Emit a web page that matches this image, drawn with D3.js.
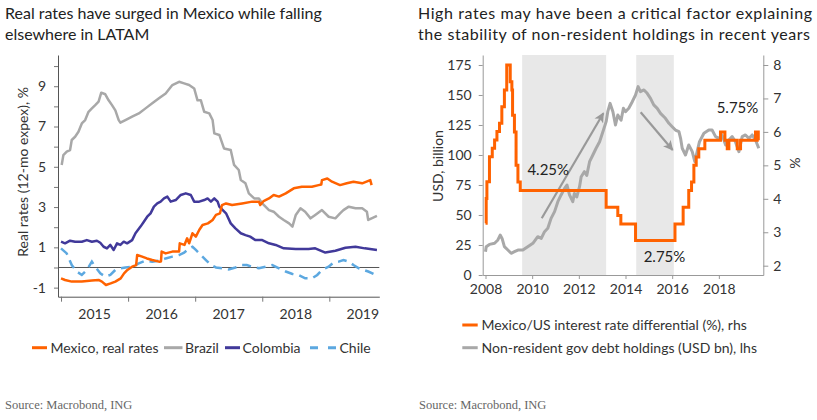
<!DOCTYPE html>
<html><head><meta charset="utf-8">
<script src="https://cdn.jsdelivr.net/npm/d3@7"></script>
<style>
html,body{margin:0;padding:0;background:#fff;}
svg{display:block;font-family:Lato,"Noto Sans",sans-serif;}
</style></head>
<body>
<svg id="c" width="817" height="420"></svg>
<script>
// ---------------- LEFT CHART DATA ----------------
const leftYears = [2015, 2016, 2017, 2018, 2019];
const leftYTicks = [-1,0,1,2,3,4,5,6,7,8,9,10];
const mexico = [[2015.0,-0.54],[2015.06,-0.62],[2015.16,-0.70],[2015.31,-0.70],[2015.46,-0.65],[2015.56,-0.62],[2015.61,-0.70],[2015.67,-0.87],[2015.74,-0.79],[2015.81,-0.70],[2015.89,-0.54],[2015.94,-0.29],[2015.99,-0.12],[2016.06,0.04],[2016.12,0.12],[2016.135,0.62],[2016.21,0.54],[2016.28,0.45],[2016.36,0.37],[2016.46,0.29],[2016.49,0.30],[2016.5,0.79],[2016.56,0.70],[2016.66,0.79],[2016.76,0.79],[2016.77,1.2],[2016.84,1.12],[2016.88,1.45],[2016.91,1.2],[2016.96,1.7],[2017.01,1.53],[2017.06,1.86],[2017.11,2.11],[2017.19,2.19],[2017.26,2.36],[2017.31,2.61],[2017.37,2.69],[2017.40,3.1],[2017.46,3.18],[2017.55,3.1],[2017.7,3.18],[2017.85,3.27],[2017.95,3.27],[2017.97,3.1],[2018.02,3.3],[2018.1,3.43],[2018.17,3.6],[2018.25,3.52],[2018.35,3.68],[2018.47,3.93],[2018.59,4.01],[2018.74,4.01],[2018.84,4.09],[2018.88,4.12],[2018.89,4.34],[2018.97,4.42],[2019.04,4.26],[2019.16,4.09],[2019.26,4.18],[2019.36,4.26],[2019.49,4.18],[2019.61,4.34],[2019.63,4.09]];
const brazil = [[2015.01,5.09],[2015.035,5.58],[2015.085,5.75],[2015.135,5.83],[2015.16,6.33],[2015.21,6.49],[2015.26,6.74],[2015.31,7.15],[2015.36,7.32],[2015.41,7.73],[2015.46,7.9],[2015.51,8.06],[2015.56,8.23],[2015.6,8.68],[2015.66,8.6],[2015.71,8.3],[2015.76,8.06],[2015.81,7.8],[2015.86,7.32],[2015.885,7.19],[2015.96,7.32],[2016.06,7.49],[2016.16,7.65],[2016.26,7.9],[2016.36,8.15],[2016.46,8.4],[2016.56,8.64],[2016.66,9.06],[2016.76,9.22],[2016.835,9.14],[2016.91,9.06],[2016.985,8.89],[2017.035,8.3],[2017.085,8.3],[2017.135,7.73],[2017.21,7.65],[2017.26,7.32],[2017.285,6.66],[2017.36,6.58],[2017.43,5.91],[2017.53,5.83],[2017.58,5.09],[2017.65,4.84],[2017.68,4.34],[2017.75,4.18],[2017.80,3.68],[2017.88,3.43],[2017.95,3.43],[2018.0,3.18],[2018.1,2.85],[2018.17,2.77],[2018.25,2.52],[2018.32,2.36],[2018.4,2.19],[2018.45,2.03],[2018.5,2.61],[2018.57,2.94],[2018.64,2.77],[2018.72,2.44],[2018.79,2.61],[2018.89,2.85],[2018.99,2.52],[2019.09,2.44],[2019.16,2.69],[2019.21,2.85],[2019.29,3.02],[2019.39,2.94],[2019.49,2.94],[2019.56,2.77],[2019.58,2.36],[2019.63,2.44],[2019.71,2.56]];
const colombia = [[2015.0,1.28],[2015.06,1.2],[2015.135,1.33],[2015.21,1.28],[2015.31,1.28],[2015.385,1.36],[2015.46,1.28],[2015.535,1.33],[2015.585,1.23],[2015.635,1.03],[2015.685,0.95],[2015.735,1.12],[2015.785,0.87],[2015.835,1.2],[2015.885,1.12],[2015.935,1.28],[2015.985,1.2],[2016.06,1.36],[2016.11,1.70],[2016.185,2.03],[2016.235,2.27],[2016.285,2.52],[2016.335,2.69],[2016.385,3.02],[2016.435,3.18],[2016.485,3.27],[2016.535,3.43],[2016.585,3.52],[2016.635,3.27],[2016.71,3.35],[2016.785,3.6],[2016.86,3.68],[2016.935,3.6],[2016.985,3.27],[2017.06,3.27],[2017.135,3.35],[2017.185,3.43],[2017.235,3.27],[2017.285,3.43],[2017.335,3.27],[2017.36,3.02],[2017.46,2.69],[2017.53,2.19],[2017.6,1.94],[2017.68,1.7],[2017.75,1.61],[2017.82,1.53],[2017.9,1.36],[2018.0,1.36],[2018.1,1.2],[2018.2,1.12],[2018.32,0.95],[2018.5,0.92],[2018.69,0.92],[2018.79,0.95],[2018.94,0.74],[2019.09,0.83],[2019.24,0.98],[2019.39,1.03],[2019.53,0.95],[2019.71,0.87]];
const chile = [[2015.0,0.95],[2015.085,0.70],[2015.16,0.12],[2015.235,-0.2],[2015.31,-0.37],[2015.385,-0.12],[2015.46,0.29],[2015.51,0.04],[2015.585,-0.29],[2015.66,-0.45],[2015.735,-0.37],[2015.81,-0.12],[2015.885,-0.04],[2015.96,0.0],[2016.06,0.04],[2016.16,0.2],[2016.26,0.34],[2016.36,0.29],[2016.46,0.34],[2016.56,0.45],[2016.66,0.54],[2016.76,0.62],[2016.835,0.74],[2016.91,0.95],[2016.96,1.03],[2017.01,0.87],[2017.085,0.62],[2017.16,0.37],[2017.235,0.12],[2017.31,0.0],[2017.4,-0.04],[2017.5,-0.1],[2017.6,0.0],[2017.7,0.12],[2017.77,0.12],[2017.85,0.04],[2017.95,-0.04],[2018.05,0.04],[2018.15,0.12],[2018.25,-0.04],[2018.35,-0.2],[2018.45,-0.32],[2018.54,-0.37],[2018.64,-0.54],[2018.74,-0.54],[2018.82,-0.37],[2018.89,-0.12],[2018.99,0.04],[2019.06,0.24],[2019.14,0.29],[2019.21,0.37],[2019.29,0.29],[2019.36,0.12],[2019.44,-0.04],[2019.51,-0.12],[2019.58,-0.2],[2019.66,-0.32]];
const leftSeriesNames = ["Mexico, real rates","Brazil","Colombia","Chile"];

// ---------------- RIGHT CHART DATA ----------------
const rightYears = [2008,2010,2012,2014,2016,2018];
const rightLeftTicks = [0,25,50,75,100,125,150,175];
const rightRightTicks = [2,3,4,5,6,7,8];
const shadedPeriods = [[2009.57,2013.17],[2014.46,2016.07]];
const rateDiff = [[2008.0,3.27],[2008.03,4.01],[2008.06,4.51],[2008.17,5.26],[2008.29,5.51],[2008.39,5.76],[2008.49,6.01],[2008.6,6.26],[2008.7,6.75],[2008.81,7.25],[2008.91,8.0],[2009.06,7.5],[2009.13,7.25],[2009.16,6.5],[2009.24,6.0],[2009.31,5.0],[2009.39,4.5],[2009.49,4.25],[2013.17,3.75],[2013.67,3.5],[2013.8,3.25],[2014.43,2.75],[2016.12,3.25],[2016.47,3.75],[2016.71,4.25],[2016.83,4.5],[2016.93,5.0],[2017.03,5.25],[2017.14,5.5],[2017.4,5.75],[2018.07,6.0],[2018.26,5.75],[2018.36,5.5],[2018.43,5.75],[2018.79,5.5],[2018.93,5.75],[2019.57,6.0],[2019.69,5.75],[2019.71,5.75]];
const holdings = [[2008.0,19.4],[2008.03,23.6],[2008.17,25.5],[2008.39,26.4],[2008.53,29.2],[2008.63,33.3],[2008.71,30.5],[2008.81,23.6],[2008.96,20.8],[2009.1,18.1],[2009.24,19.4],[2009.39,20.8],[2009.6,20.8],[2009.81,23.6],[2010.03,26.4],[2010.24,31.9],[2010.39,30.5],[2010.53,36.1],[2010.67,38.9],[2010.81,47.2],[2010.96,52.8],[2011.1,61.1],[2011.24,66.7],[2011.39,72.2],[2011.49,75],[2011.6,66.7],[2011.74,61.1],[2011.81,68],[2011.91,65],[2012.03,73.6],[2012.1,81.9],[2012.24,86.1],[2012.34,83],[2012.46,94.4],[2012.6,100],[2012.74,105.6],[2012.89,111],[2013.03,119.4],[2013.17,127.8],[2013.24,136.1],[2013.34,143],[2013.46,136.1],[2013.57,125],[2013.67,133.3],[2013.81,129],[2013.91,138.9],[2014.0,136.1],[2014.14,138.9],[2014.29,144.4],[2014.43,150],[2014.54,157],[2014.64,152.8],[2014.79,154.2],[2014.93,151.4],[2015.07,147.2],[2015.21,141.7],[2015.36,138.9],[2015.5,134.7],[2015.71,130.6],[2015.86,126.4],[2016.0,123.6],[2016.14,120.8],[2016.29,119.4],[2016.36,113.9],[2016.43,105.6],[2016.57,100],[2016.71,108.3],[2016.86,102.8],[2016.97,94.4],[2017.07,102.8],[2017.17,111.1],[2017.36,118.1],[2017.57,120.8],[2017.71,120.8],[2017.86,115.3],[2018.0,113.9],[2018.14,116.7],[2018.29,108.3],[2018.43,112.5],[2018.57,115.3],[2018.71,111.1],[2018.86,102.8],[2019.0,115.3],[2019.14,116.7],[2019.29,113.9],[2019.43,116.7],[2019.57,112.5],[2019.71,105.6]];
const rightSeriesNames = ["Mexico/US interest rate differential (%), rhs","Non-resident gov debt holdings (USD bn), lhs"];
// annotations: [year, lhs value, text]
const annotations = [[2010.69,87.5,"4.25%"],[2015.67,15.3,"2.75%"],[2018.8,138.9,"5.75%"]];
// arrows: [[year, lhs value] from, [year, lhs value] to]
const arrows = [[[2010.41,47.3],[2013.05,134.8]],[[2014.65,135.6],[2016.02,104.2]]];

const ORANGE="#FF6200", GRAY="#A8A8A8", NAVY="#41399A", LBLUE="#5CA8E0";
const FONT = "Lato, 'Noto Sans', sans-serif";
const svg = d3.select("#c");
const txt = "#333";

// ---------------- TITLES ----------------
function title(x, lines, len){
  lines.forEach((l,i)=>{
    const t = svg.append("text").attr("x",x).attr("y",19+i*20.5)
      .attr("font-size",16).attr("fill","#222").style("font-family",FONT).text(l);
    if (len) t.attr("textLength",len[i]).attr("lengthAdjust","spacing");
  });
}
title(5,["Real rates have surged in Mexico while falling","elsewhere in LATAM"]);
title(418,["High rates may have been a critical factor explaining","the stability of non-resident holdings in recent years"],[394,392]);

// ---------------- LEFT CHART ----------------
const xL = d3.scaleLinear().domain([2014.955,2019.745]).range([58,379.3]);
const yL = d3.scaleLinear().domain([-1.45,10.55]).range([296.7,55]);
const gL = svg.append("g");

const axL = gL.append("g").attr("transform","translate(58,0)")
  .call(d3.axisLeft(yL).tickValues(leftYTicks).tickFormat(d=>Math.abs(d%2)===1?String(d):"").tickSizeInner(4).tickSizeOuter(0).tickPadding(8));
const axB = gL.append("g").attr("transform","translate(0,296.7)")
  .call(d3.axisBottom(xL).tickValues(leftYears).tickFormat("").tickSizeInner(5).tickSizeOuter(0));
[axL,axB].forEach(a=>{
  a.select(".domain").attr("stroke","#555");
  a.selectAll(".tick line").attr("stroke","#777");
  a.selectAll("text").attr("font-size",14).attr("fill",txt).style("font-family",FONT);
});
gL.selectAll(".yrlab").data(leftYears).enter().append("text")
  .attr("x",d=>xL(d+0.5)).attr("y",318.5).attr("text-anchor","middle")
  .attr("font-size",14).attr("fill",txt).text(d=>d);

gL.append("line").attr("x1",58).attr("x2",379.3).attr("y1",yL(0)).attr("y2",yL(0))
  .attr("stroke","#555").attr("stroke-width",1);

gL.append("text").attr("transform",`translate(28,${(yL(-1.45)+yL(10.55))/2-4}) rotate(-90)`)
  .attr("text-anchor","middle").attr("font-size",14).attr("fill",txt).text("Real rates (12-mo expex), %");

const lineL = d3.line().x(d=>xL(d[0])).y(d=>yL(d[1]));
gL.append("path").datum(chile).attr("d",lineL).attr("fill","none").attr("stroke",LBLUE).attr("stroke-width",2.5).attr("stroke-dasharray","9,6");
gL.append("path").datum(brazil).attr("d",lineL).attr("fill","none").attr("stroke",GRAY).attr("stroke-width",2.5).attr("stroke-linejoin","round");
gL.append("path").datum(colombia).attr("d",lineL).attr("fill","none").attr("stroke",NAVY).attr("stroke-width",2.5).attr("stroke-linejoin","round");
gL.append("path").datum(mexico).attr("d",lineL).attr("fill","none").attr("stroke",ORANGE).attr("stroke-width",2.5).attr("stroke-linejoin","round");

// left legend
const legL = [
  {n:leftSeriesNames[0],c:ORANGE,x:32,w:15,tx:50.5,dash:null},
  {n:leftSeriesNames[1],c:GRAY,x:164,w:18.5,tx:185,dash:null},
  {n:leftSeriesNames[2],c:NAVY,x:225,w:15,tx:242.5,dash:null},
  {n:leftSeriesNames[3],c:LBLUE,x:310,w:27,tx:339.5,dash:"8,10"}
];
legL.forEach(l=>{
  svg.append("line").attr("x1",l.x).attr("x2",l.x+l.w).attr("y1",347.7).attr("y2",347.7)
    .attr("stroke",l.c).attr("stroke-width",3).attr("stroke-dasharray",l.dash);
  svg.append("text").attr("x",l.tx).attr("y",352.8).attr("font-size",14).attr("fill",txt).text(l.n);
});

// ---------------- RIGHT CHART ----------------
const xR = d3.scaleLinear().domain([2007.88,2019.905]).range([482.7,763.3]);
const yRL = d3.scaleLinear().domain([0,183.33]).range([275,55]);
const yRR = d3.scaleLinear().domain([1.722,8.299]).range([275,55]);
const gR = svg.append("g");

gR.selectAll(".shade").data(shadedPeriods).enter().append("rect")
  .attr("x",d=>xR(d[0])).attr("width",d=>xR(d[1])-xR(d[0]))
  .attr("y",55).attr("height",220).attr("fill","#E8E8E8");

const axRL = gR.append("g").attr("transform","translate(482.7,0)")
  .call(d3.axisLeft(yRL).tickValues(rightLeftTicks).tickFormat(d=>String(d)).tickSizeInner(4).tickSizeOuter(0).tickPadding(7));
const axRR = gR.append("g").attr("transform","translate(763.3,0)")
  .call(d3.axisRight(yRR).tickValues(rightRightTicks).tickFormat(d=>String(d)).tickSizeInner(5).tickSizeOuter(0).tickPadding(5));
const axRB = gR.append("g").attr("transform","translate(0,275)")
  .call(d3.axisBottom(xR).tickValues(rightYears).tickFormat(d=>String(d)).tickSizeInner(4).tickSizeOuter(0).tickPadding(5));
[axRL,axRR,axRB].forEach(a=>{
  a.select(".domain").attr("stroke","#999");
  a.selectAll(".tick line").attr("stroke","#999");
  a.selectAll("text").attr("font-size",14).attr("fill",txt).style("font-family",FONT);
});

gR.append("text").attr("transform","translate(443,166) rotate(-90)")
  .attr("text-anchor","middle").attr("font-size",14).attr("fill",txt).text("USD, billion");
gR.append("text").attr("transform","translate(790,163) rotate(90)")
  .attr("text-anchor","middle").attr("font-size",14).attr("fill",txt).text("%");

const lineH = d3.line().x(d=>xR(d[0])).y(d=>yRL(d[1]));
gR.append("path").datum(holdings).attr("d",lineH).attr("fill","none").attr("stroke",GRAY).attr("stroke-width",3).attr("stroke-linejoin","round");

// arrows
const defs = svg.append("defs");
defs.append("marker").attr("id","ah").attr("viewBox","0 0 10 10").attr("refX",9).attr("refY",5)
  .attr("markerWidth",11).attr("markerHeight",10).attr("markerUnits","userSpaceOnUse").attr("orient","auto")
  .append("path").attr("d","M0,0 L10,5 L0,10 L2.5,5 Z").attr("fill","#999");
gR.selectAll(".arr").data(arrows).enter().append("line")
  .attr("x1",d=>xR(d[0][0])).attr("y1",d=>yRL(d[0][1]))
  .attr("x2",d=>xR(d[1][0])).attr("y2",d=>yRL(d[1][1]))
  .attr("stroke","#999").attr("stroke-width",2.2).attr("marker-end","url(#ah)");

const lineR = d3.line().x(d=>xR(d[0])).y(d=>yRR(d[1])).curve(d3.curveStepAfter);
gR.append("path").datum(rateDiff).attr("d",lineR).attr("fill","none").attr("stroke",ORANGE).attr("stroke-width",3);

gR.selectAll(".ann").data(annotations).enter().append("text")
  .attr("x",d=>xR(d[0])).attr("y",d=>yRL(d[1])+5).attr("text-anchor","middle")
  .attr("font-size",15).attr("fill","#222").text(d=>d[2]);

// right legend
[[ORANGE,325,rightSeriesNames[0]],[GRAY,347.7,rightSeriesNames[1]]].forEach(l=>{
  svg.append("line").attr("x1",462.3).attr("x2",477.7).attr("y1",l[1]).attr("y2",l[1])
    .attr("stroke",l[0]).attr("stroke-width",3);
  svg.append("text").attr("x",481.5).attr("y",l[1]+5).attr("font-size",14).attr("fill",txt).text(l[2]);
});

// sources
[5,419].forEach(x=>svg.append("text").attr("x",x).attr("y",409).attr("font-size",12.5)
  .style("font-family","'Liberation Serif','DejaVu Serif',serif").attr("fill","#666").text("Source: Macrobond, ING"));
</script>
</body></html>
